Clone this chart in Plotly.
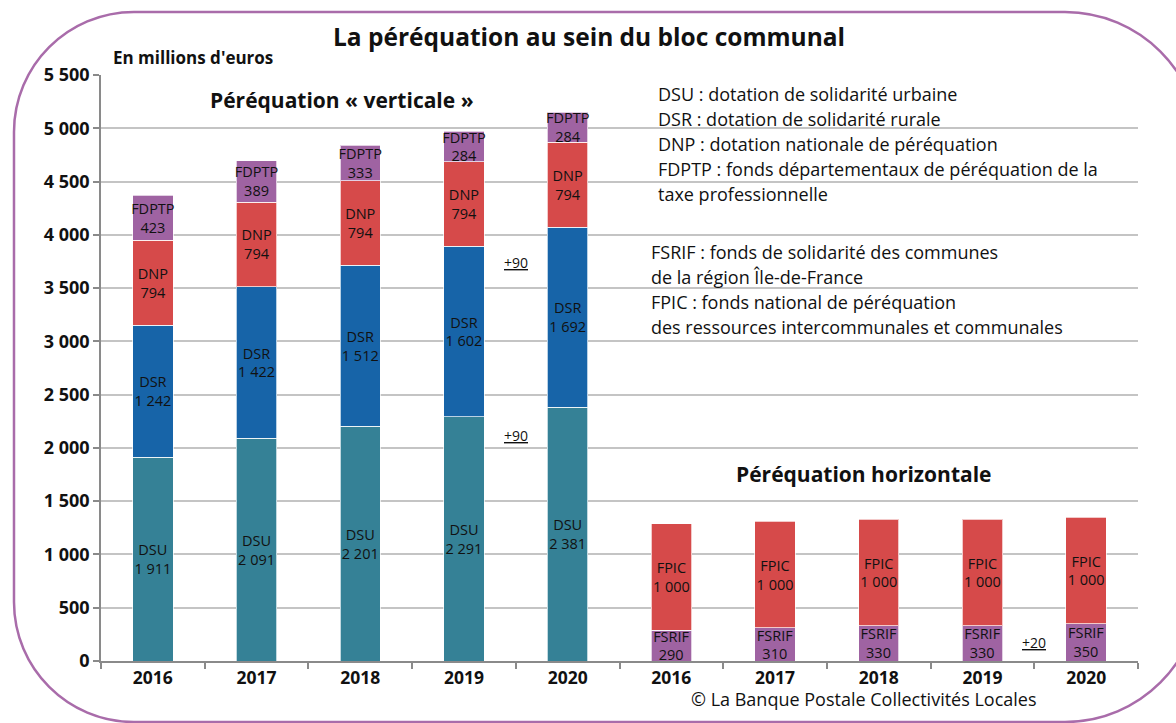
import plotly.graph_objects as go

# ---------------- data ----------------
years = ["2016", "2017", "2018", "2019", "2020"]
dsu = [1911, 2091, 2201, 2291, 2381]
dsr = [1242, 1422, 1512, 1602, 1692]
dnp = [794, 794, 794, 794, 794]
fdptp = [423, 389, 333, 284, 284]
fsrif = [290, 310, 330, 330, 350]
fpic = [1000, 1000, 1000, 1000, 1000]

# small "+" delta labels (x position between categories, y value)
delta_x = [3.5, 3.5, 8.5]
delta_y = [3740, 2120, 178]
delta_text = ["+90", "+90", "+20"]

legend_lines_1 = [
    "DSU : dotation de solidarité urbaine",
    "DSR : dotation de solidarité rurale",
    "DNP : dotation nationale de péréquation",
    "FDPTP : fonds départementaux de péréquation de la",
    "taxe professionnelle",
]
legend_lines_2 = [
    "FSRIF : fonds de solidarité des communes",
    "de la région Île-de-France",
    "FPIC : fonds national de péréquation",
    "des ressources intercommunales et communales",
]

# ---------------- styling ----------------
W, H = 1176, 723
# plot area in page pixels: x 101..1138, y 75..661
L, R, T, B = 101, W - 1138, 75, H - 661
PW, PH = W - L - R, H - T - B
FONT = "Open Sans"
C_DSU = "#358196"
C_DSR = "#1764A8"
C_DNP = "#D64A4A"
C_PUR = "#9F63A2"
C_BORDER = "#A96CAA"


def px(x):  # pixel -> paper
    return (x - L) / PW


def py(y):
    return (H - B - y) / PH


def fmt(v):
    return f"{v:,}".replace(",", " ")


xv = list(range(5))
xh = list(range(5, 10))
BW = 0.39

fig = go.Figure()


def add(x, vals, name, color):
    fig.add_trace(go.Bar(
        x=x, y=vals, name=name, width=BW,
        marker=dict(color=color, line=dict(color="rgba(255,255,255,0.7)", width=1)),
        text=[f"{name}<br>{fmt(v)}" for v in vals],
        textposition="inside", insidetextanchor="middle", textangle=0,
        constraintext="none",
        textfont=dict(family=FONT, size=14.5, color="#111111"),
        hoverinfo="skip", showlegend=False,
    ))


add(xv, dsu, "DSU", C_DSU)
add(xv, dsr, "DSR", C_DSR)
add(xv, dnp, "DNP", C_DNP)
add(xv, fdptp, "FDPTP", C_PUR)
add(xh, fsrif, "FSRIF", C_PUR)
add(xh, fpic, "FPIC", C_DNP)

annotations = []
for x, y, t in zip(delta_x, delta_y, delta_text):
    annotations.append(dict(x=x, y=y, xref="x", yref="y", text=f"<u>{t}</u>",
                            showarrow=False, font=dict(family=FONT, size=14, color="#111")))


def ann(x, y, text, size, anchor="center", bold=False):
    annotations.append(dict(x=px(x), y=py(y), xref="paper", yref="paper",
                            xanchor=anchor, yanchor="middle",
                            text=f"<b>{text}</b>" if bold else text, showarrow=False,
                            font=dict(family=FONT, size=size, color="#111")))


ann(589, 36, "La péréquation au sein du bloc communal", 24.5, bold=True)
ann(111, 58, "En millions d'euros", 17, anchor="left", bold=True)
ann(342, 100, "Péréquation « verticale »", 21, bold=True)
ann(864, 474, "Péréquation horizontale", 21, bold=True)
for i, line in enumerate(legend_lines_1):
    ann(656, 94 + 25 * i, line, 18, anchor="left")
for i, line in enumerate(legend_lines_2):
    ann(649, 252 + 25 * i, line, 18, anchor="left")
ann(864, 699, "© La Banque Postale Collectivités Locales", 18)

# rounded border (pixels -> paper, cubic bezier corners)
x0, y0, x1, y1 = 14, 12, 1200, 722
rl, rr = 120, 135
kl, kr = 0.5523 * rl, 0.5523 * rr


def P(x, y):
    return f"{px(x):.5f},{py(y):.5f}"


path = (
    f"M {P(x0 + rl, y0)} L {P(x1 - rr, y0)} "
    f"C {P(x1 - rr + kr, y0)} {P(x1, y0 + rr - kr)} {P(x1, y0 + rr)} "
    f"L {P(x1, y1 - rr)} "
    f"C {P(x1, y1 - rr + kr)} {P(x1 - rr + kr, y1)} {P(x1 - rr, y1)} "
    f"L {P(x0 + rl, y1)} "
    f"C {P(x0 + rl - kl, y1)} {P(x0, y1 - rl + kl)} {P(x0, y1 - rl)} "
    f"L {P(x0, y0 + rl)} "
    f"C {P(x0, y0 + rl - kl)} {P(x0 + rl - kl, y0)} {P(x0 + rl, y0)} Z"
)

fig.update_layout(
    width=W, height=H,
    margin=dict(l=L, r=R, t=T, b=B, pad=0),
    paper_bgcolor="white", plot_bgcolor="white",
    barmode="stack",
    separators=", ",
    font=dict(family=FONT, color="#111"),
    annotations=annotations,
    shapes=[dict(type="path", path=path, xref="paper", yref="paper",
                 line=dict(color=C_BORDER, width=2.5), layer="above")],
    xaxis=dict(
        range=[-0.5, 9.5], tickmode="array", tickvals=list(range(10)),
        ticktext=years + years, ticks="",
        showline=True, linecolor="#8a8a8a", linewidth=1.5,
        showgrid=False, zeroline=False,
        tickfont=dict(family=FONT, size=17.5, color="#111", weight="bold"),
        minor=dict(tickmode="array", tickvals=[i - 0.5 for i in range(11)],
                   ticks="outside", ticklen=6, tickcolor="#8a8a8a", tickwidth=1.5,
                   showgrid=False),
    ),
    yaxis=dict(
        range=[0, 5500], dtick=500, tick0=0, tickformat=",d",
        showline=True, linecolor="#8a8a8a", linewidth=1.5,
        ticks="outside", ticklen=6, tickcolor="#8a8a8a", tickwidth=1.5,
        gridcolor="#c4c4c4", gridwidth=1.5, zeroline=False,
        tickfont=dict(family=FONT, size=18, color="#111", weight="bold"),
    ),
)

fig.write_html(
    "out.html",
    config={"displayModeBar": False},
    post_script="document.body.style.margin='0px';document.body.style.overflow='hidden';",
)
